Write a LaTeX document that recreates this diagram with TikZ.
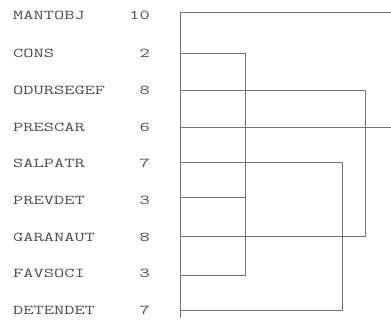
\documentclass[tikz,border=0pt]{standalone}
\usepackage{fontspec}
\newfontfamily\labfont[FakeStretch=1.47]{Latin Modern Mono}
\begin{document}
\begin{tikzpicture}[x=1pt,y=-1pt,
  lab/.style={anchor=west,inner sep=0pt,font=\labfont\fontsize{13.5}{13.5}\selectfont,text=black!70},
  num/.style={anchor=east,inner sep=0pt,font=\labfont\fontsize{13.5}{13.5}\selectfont,text=black!70},
  den/.style={draw=black!55,line width=0.9pt}]
\useasboundingbox (0,0) rectangle (391,320);
% labels
\foreach \n/\t/\v/\y in {a/MANTOBJ/10/15,b/CONS/2/53,c/ODURSEGEF/8/90,d/PRESCAR/6/127,e/SALPATR/7/163,f/PREVDET/3/200,g/GARANAUT/8/237,h/FAVSOCI/3/273,i/DETENDET/7/310}{
  \node[lab] (l\n) at (13,\y) {\t};
  \node[num] (n\n) at (150,\y) {\v};
}
% coordinates
\coordinate (top) at (180,12);
\coordinate (bot) at (180,318);
\coordinate (ya) at (180,12);
\coordinate (yb) at (180,53);
\coordinate (yc) at (180,90);
\coordinate (yd) at (180,127);
\coordinate (ye) at (180,162);
\coordinate (yf) at (180,197);
\coordinate (yg) at (180,236);
\coordinate (yh) at (180,275);
\coordinate (yi) at (180,310);
\coordinate (ra) at (391,12);
\coordinate (rd) at (391,127);
\coordinate (k1a) at (245,53);
\coordinate (k1b) at (245,275);
\coordinate (k1c) at (245,197);
\coordinate (k2a) at (365,90);
\coordinate (k2b) at (365,236);
\coordinate (k3a) at (342,162);
\coordinate (k3b) at (342,310);
% dendrogram
\draw[den] (top) -- (bot);
\draw[den] (ya) -- (ra);
\draw[den] (yd) -- (rd);
\draw[den] (yb) -- (k1a) -- (k1b) -- (yh);
\draw[den] (yf) -- (k1c);
\draw[den] (yc) -- (k2a) -- (k2b) -- (yg);
\draw[den] (ye) -- (k3a) -- (k3b) -- (yi);
\end{tikzpicture}
\end{document}
